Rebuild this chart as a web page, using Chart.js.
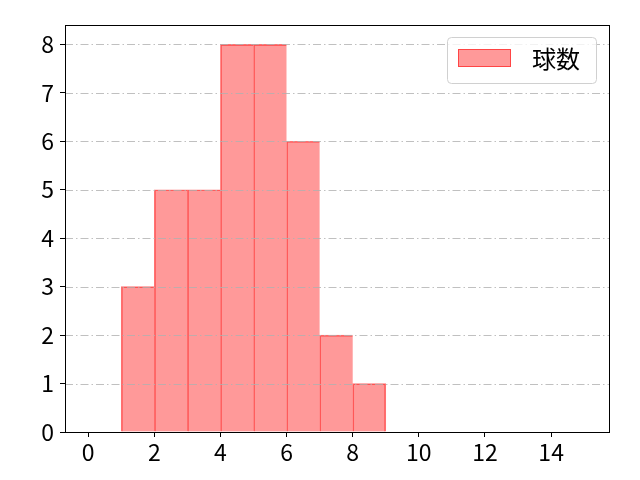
<!DOCTYPE html>
<html>
<head>
<meta charset="utf-8">
<script src="https://cdn.jsdelivr.net/npm/chart.js@4/dist/chart.umd.min.js"></script>
<style>
  html, body { margin: 0; padding: 0; background: #fff; }
  #wrap { width: 640px; height: 480px; }
</style>
</head>
<body>
<div id="wrap"><canvas id="histChart" width="640" height="480"></canvas></div>
<script>
// --- DATA --- //
const binStarts = [1, 2, 3, 4, 5, 6, 7, 8];
const counts = [3, 5, 5, 8, 8, 6, 2, 1];
const xTicks = [0, 2, 4, 6, 8, 10, 12, 14];
const yTicks = [0, 1, 2, 3, 4, 5, 6, 7, 8];
const seriesLabel = "球数";

const FONT = "'Noto Sans CJK JP', 'DejaVu Sans', sans-serif";
const fillColor = "rgba(255, 0, 0, 0.4)";
const edgeColor = "rgba(255, 0, 0, 0.55)";

// --- PLUGIN: kotak, grid titik-garis, legend --- //
const framePlugin = {
  id: "frame",
  afterDatasetsDraw(chart) {
    const { ctx, chartArea: a, scales } = chart;
    // grid horizontal di atas bar (seperti matplotlib)
    ctx.save();
    ctx.strokeStyle = "#b0b0b0";
    ctx.lineWidth = 0.8;
    ctx.setLineDash([8, 3, 1.5, 3]);
    yTicks.forEach(v => {
      const y = Math.round(scales.y.getPixelForValue(v)) + 0.5;
      ctx.beginPath();
      ctx.moveTo(a.left, y);
      ctx.lineTo(a.right, y);
      ctx.stroke();
    });
    ctx.restore();
  },
  afterDraw(chart) {
    const { ctx, chartArea: a } = chart;
    ctx.save();
    ctx.strokeStyle = "#000";
    ctx.lineWidth = 1;
    ctx.strokeRect(Math.round(a.left) + 0.5, Math.round(a.top) + 0.5,
      Math.round(a.right - a.left), Math.round(a.bottom - a.top));

    // legend
    const lx = 447, ly = 37, lw = 149, lh = 46;
    ctx.fillStyle = "rgba(255,255,255,0.8)";
    ctx.strokeStyle = "#d0d0d0";
    ctx.beginPath();
    ctx.roundRect(lx + 0.5, ly + 0.5, lw, lh, 4);
    ctx.fill();
    ctx.stroke();
    const ds = chart.data.datasets[0];
    ctx.fillStyle = ds.backgroundColor;
    ctx.fillRect(458, 49, 53, 18);
    ctx.strokeStyle = ds.borderColor;
    ctx.strokeRect(458.5, 49.5, 52, 17);
    ctx.fillStyle = "#000";
    ctx.font = "24px " + FONT;
    ctx.textBaseline = "middle";
    ctx.fillText(ds.label, 532, 59);
    ctx.restore();
  }
};

// --- CHART --- //
const ctx = document.getElementById("histChart");
new Chart(ctx, {
  type: "bar",
  data: {
    datasets: [{
      label: seriesLabel,
      data: binStarts.map((s, i) => ({ x: s + 0.5, y: counts[i] })),
      backgroundColor: fillColor,
      borderColor: edgeColor,
      // garis tepi cuma sekali antar bar
      borderWidth: c => c.dataIndex === counts.length - 1
        ? { left: 1, top: 1, right: 1, bottom: 0 }
        : { left: 1, top: 1, right: 0, bottom: 0 },
      borderSkipped: false,
      barPercentage: 1,
      categoryPercentage: 1
    }]
  },
  options: {
    responsive: false,
    animation: false,
    layout: { padding: { top: 25, right: 31, left: 0, bottom: 0 } },
    plugins: { legend: { display: false }, tooltip: { enabled: false } },
    scales: {
      x: {
        type: "linear",
        offset: false,
        min: -0.7,
        max: 15.75,
        afterBuildTicks: s => { s.ticks = xTicks.map(v => ({ value: v })); },
        afterFit: s => { s.height = 48; },
        grid: { display: true, offset: false, drawOnChartArea: false, drawTicks: true, tickLength: 5, color: "#000" },
        border: { display: false },
        ticks: { color: "#000", font: { family: FONT, size: 23 }, padding: 1, maxRotation: 0 }
      },
      y: {
        type: "linear",
        min: 0,
        max: 8.4,
        afterBuildTicks: s => { s.ticks = yTicks.map(v => ({ value: v })); },
        afterFit: s => { s.width = 65; },
        grid: { display: true, drawOnChartArea: false, drawTicks: true, tickLength: 5, color: "#000" },
        border: { display: false },
        ticks: { color: "#000", font: { family: FONT, size: 23 }, padding: 6 }
      }
    }
  },
  plugins: [framePlugin]
});
</script>
</body>
</html>
